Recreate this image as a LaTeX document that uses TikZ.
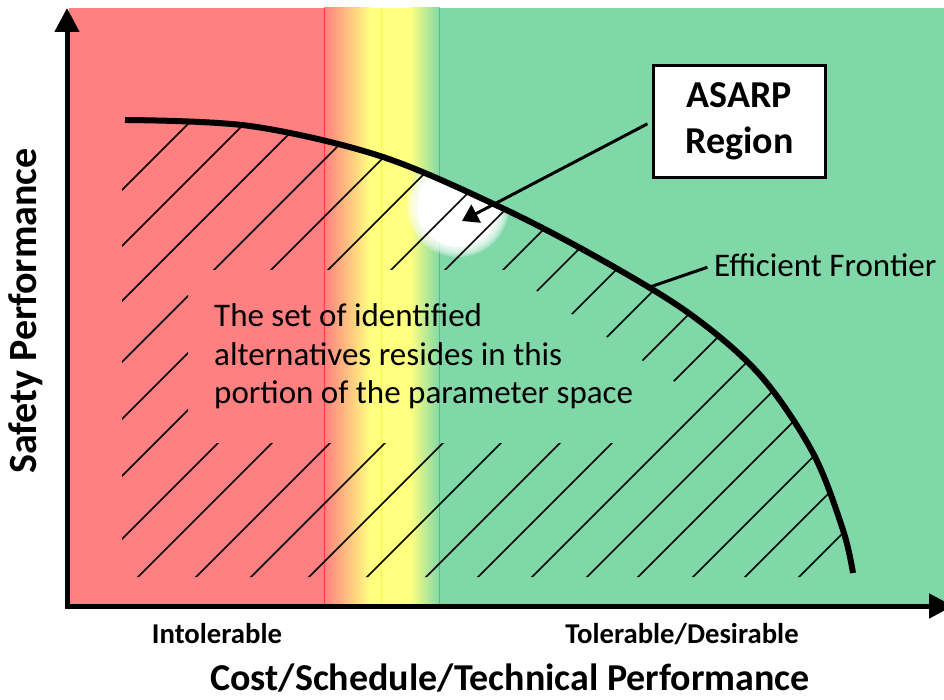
\documentclass[tikz,border=0pt]{standalone}
\usepackage{fontspec}
\setmainfont{Carlito}
\usetikzlibrary{arrows.meta}
\definecolor{zred}{RGB}{255,128,128}
\definecolor{zyellow}{RGB}{255,255,128}
\definecolor{zgreen}{RGB}{128,216,168}
\definecolor{zredline}{RGB}{255,60,60}
\definecolor{zyelline}{RGB}{250,245,70}
\definecolor{zgreenline}{RGB}{80,190,130}
\newcommand{\frontier}{plot[smooth,tension=0.55] coordinates {(125,120) (250,126) (380,156) (500,207) (600,259) (690,314) (760,375) (813,453) (843,530) (853,573)}}
\tikzset{
  hatchline/.style={line width=1.5pt, black},
  axisline/.style={line width=5pt, -{Triangle[length=24pt,width=24pt]}},
  lead/.style={line width=3pt},
  body/.style={anchor=base west, inner sep=0pt, font=\fontsize{33}{39}\selectfont},
  tick/.style={anchor=base, inner sep=0pt, font=\bfseries\fontsize{28.7}{34}\selectfont},
  big/.style={anchor=base, inner sep=0pt, font=\bfseries\fontsize{38}{46}\selectfont}
}
\begin{document}
\begin{tikzpicture}[x=1pt,y=-1pt]
\useasboundingbox (0,0) rectangle (944,700);
% background zones
\fill[zred] (69,8) rectangle (324,606);
\shade[left color=zred, right color=zyellow] (324,8) rectangle (370,606);
\fill[zyellow] (370,8) rectangle (410,606);
\shade[left color=zyellow, right color=zgreen] (410,8) rectangle (440,606);
\fill[zgreen] (440,8) rectangle (944,606);
\draw[zredline, line width=0.8pt] (324,8) -- (324,606);
\draw[zyelline, line width=0.8pt] (381,8) -- (381,606);
\draw[zgreenline, line width=0.8pt] (439.5,8) -- (439.5,606);
% white glow under the frontier
\begin{scope}
\clip \frontier -- (853,577) -- (122,577) -- (122,120) -- cycle;
\foreach \r in {51,49,47,45,43} \fill[white, opacity=0.3] (458,206) circle (\r);
\fill[white] (458,206) circle (41);
\end{scope}
% hatching
\begin{scope}[even odd rule]
\clip \frontier -- (853,577) -- (122,577) -- (122,120) -- cycle
  (188,270) -- (505,270) -- (675,382) -- (650,443) -- (188,443) -- cycle;
\foreach \c in {312,368,423,484,541,598,661,715,773,828,886,944,1003,1055,1109,1164,1215,1270,1322,1376}
  \draw[hatchline] (\c-600,600) -- (\c-90,90);
\end{scope}
% frontier
\draw[line width=6pt] \frontier;
% axes
\draw[axisline] (67,608) -- (67,8);
\draw[axisline] (65,606) -- (953,606);
% text block
\node[body] (t1) at (214,326) {The set of identified};
\node[body] (t2) at (214,365) {alternatives resides in this};
\node[body] (t3) at (214,403) {portion of the parameter space};
% ASARP box
\node[draw, line width=3.3pt, fill=white, minimum width=172pt, minimum height=112pt, align=center,
      font=\bfseries\fontsize{38}{46}\selectfont] (asarp) at (739.5,121.5) {ASARP\\Region};
\coordinate (tip) at (462,221);
\draw[lead, -{Triangle[length=16pt,width=20pt]}, shorten <=5pt] (asarp.west) -- (tip);
% efficient frontier label
\node[anchor=west, inner sep=0pt, font=\fontsize{33}{39}\selectfont] (ef) at (714,265) {Efficient Frontier};
\coordinate (efp) at (647,288);
\draw[lead, shorten >=7pt] (efp) -- (ef.west);
% axis labels
\node[tick] (intol) at (217,643) {Intolerable};
\node[tick] (toler) at (682,643) {Tolerable/Desirable};
\node[big] (xlabel) at (510,690) {Cost/Schedule/Technical Performance};
\node[big, font=\bfseries\fontsize{40}{48}\selectfont, rotate=90] (ylabel) at (36,311) {Safety Performance};
\end{tikzpicture}
\end{document}
